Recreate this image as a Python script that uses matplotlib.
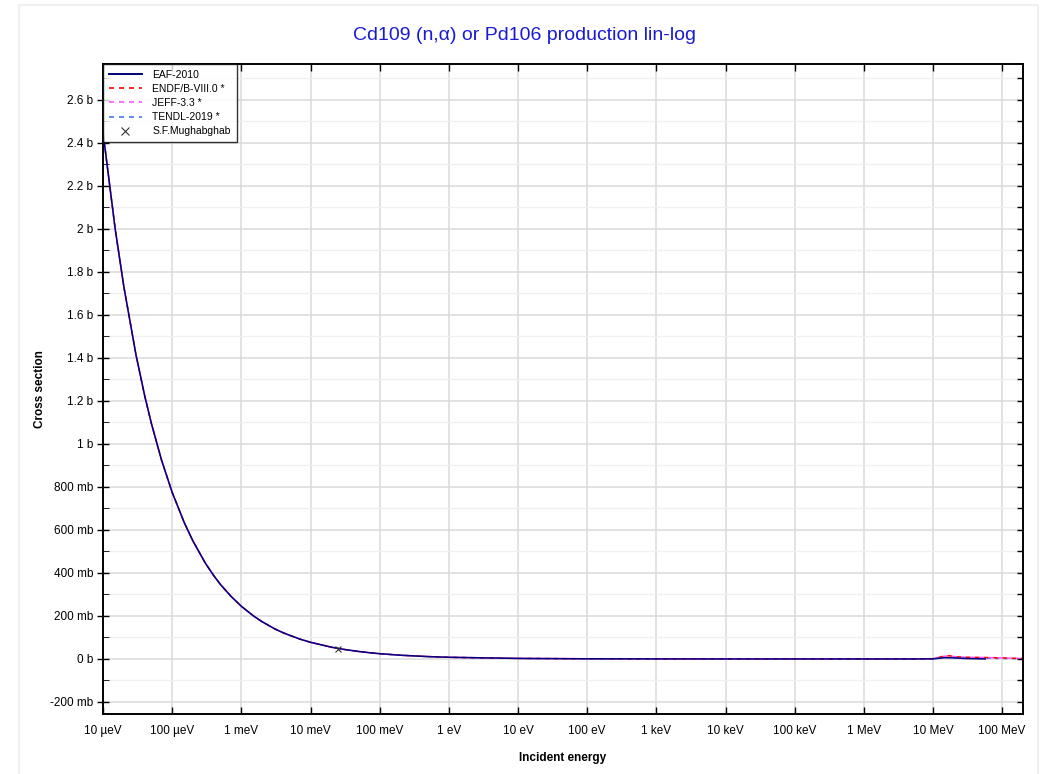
import numpy as np
import matplotlib.pyplot as plt
from matplotlib.ticker import FixedLocator, MultipleLocator, FuncFormatter, NullFormatter
from matplotlib.lines import Line2D
import matplotlib.patches as patches

plt.rcParams['font.family'] = ['Liberation Sans', 'DejaVu Sans']

# energies in eV, cross sections in barn
e_low = [1e-5, 1.5e-5, 2e-5, 3e-5, 4e-5, 5e-5, 7e-5,
         1e-4, 1.5e-4, 2e-4, 3e-4, 4e-4, 5e-4, 7e-4,
         1e-3, 1.5e-3, 2e-3, 3e-3, 4e-3, 5e-3, 7e-3,
         1e-2, 2e-2, 3e-2, 5e-2, 7e-2,
         0.1, 0.2, 0.5, 1, 10, 100, 1e3, 1e4, 1e5, 1e6, 5e6]
xs_low = [2.45, 2.0, 1.732, 1.414, 1.225, 1.096, 0.926,
          0.775, 0.633, 0.548, 0.447, 0.387, 0.346, 0.293,
          0.245, 0.200, 0.173, 0.141, 0.122, 0.110, 0.0926,
          0.0775, 0.0548, 0.0447, 0.0346, 0.0293,
          0.0245, 0.0173, 0.0110, 0.00775, 0.00245, 0.00078, 0.00025, 0.00008,
          0.00003, 0.00001, 0.00001]

eaf_e_hi = [1e7, 1.5e7, 2e7, 3e7, 5.7e7]
eaf_xs_hi = [0.0005, 0.006, 0.005, 0.002, 0.0]

endf_e_hi = [1e7, 1.4e7, 1.7e7, 2.2e7, 3e7, 5e7, 1e8, 2e8]
endf_xs_hi = [0.001, 0.012, 0.015, 0.010, 0.008, 0.007, 0.005, 0.002]

jeff_e_hi = [1e7, 1.4e7, 1.7e7, 2.2e7, 3e7, 5e7, 1e8, 2e8]
jeff_xs_hi = [0.001, 0.012, 0.014, 0.010, 0.008, 0.007, 0.005, 0.002]

tendl_e_hi = [1e7, 1.5e7, 2e7, 3e7, 6e7, 1e8, 2e8]
tendl_xs_hi = [0.0005, 0.007, 0.006, 0.004, 0.003, 0.002, 0.001]

mugh_e = [0.0253]
mugh_xs = [0.045]

x_ticks = [1e-5, 1e-4, 1e-3, 1e-2, 1e-1, 1, 10, 100, 1e3, 1e4, 1e5, 1e6, 1e7, 1e8]
x_labels = ['10 µeV', '100 µeV', '1 meV', '10 meV', '100 meV', '1 eV', '10 eV',
            '100 eV', '1 keV', '10 keV', '100 keV', '1 MeV', '10 MeV', '100 MeV']

ylim = (-0.256, 2.767)

fig = plt.figure(figsize=(10.49, 7.74), dpi=100)
ax = fig.add_axes([103/1049, 1-714/774, 920/1049, 650/774])

# light frame around the figure
fig.patches.append(patches.Rectangle((19/1049, -0.01), 1019/1049, 1-5/774+0.01,
                                     transform=fig.transFigure, fill=False,
                                     edgecolor='#eeeeee', lw=1.2))

ax.plot(e_low + tendl_e_hi, xs_low + tendl_xs_hi, color='#4477ee', lw=1.0,
        ls=(0, (3, 3)), zorder=3)
ax.plot(e_low + endf_e_hi, xs_low + endf_xs_hi, color='#ff0000', lw=1.1,
        ls=(0, (3, 3)), zorder=4)
ax.plot(e_low + jeff_e_hi, xs_low + jeff_xs_hi, color='#ff55ff', lw=1.1,
        ls=(3, (3, 3)), zorder=4)
ax.plot(e_low + eaf_e_hi, xs_low + eaf_xs_hi, color='#000080', lw=1.1, zorder=5)
ax.plot(mugh_e, mugh_xs, 'x', color='#333333', ms=5, mew=0.8, zorder=7)

ax.set_xscale('log')
ax.set_xlim(1e-5, 2e8)
ax.set_ylim(*ylim)

ax.xaxis.set_major_locator(FixedLocator(x_ticks))
ax.set_xticklabels(x_labels)
ax.xaxis.set_minor_locator(FixedLocator([]))
ax.yaxis.set_major_locator(MultipleLocator(0.2))
ax.yaxis.set_minor_locator(MultipleLocator(0.1))


def fmt_b(v, pos):
    v = round(v, 6)
    if v == 0:
        return '0 b'
    if abs(v) >= 1:
        return f'{v:g} b'
    return f'{v*1000:g} mb'


ax.yaxis.set_major_formatter(FuncFormatter(fmt_b))

ax.grid(True, which='major', color='#dadada', lw=1.1)
ax.grid(True, which='minor', axis='y', color='#f0f0f0', lw=1.0)
ax.set_axisbelow(True)

ax.tick_params(axis='x', which='major', direction='in', length=5, top=True,
               labelsize=8.5, pad=8, width=1)
ax.tick_params(axis='y', which='major', direction='inout', length=8, right=False,
               labelsize=8.5, width=1, pad=3)
ax.tick_params(axis='y', which='minor', direction='in', length=4, right=False)

# inward ticks on the right side
ax2 = ax.twinx()
ax2.set_ylim(*ylim)
ax2.yaxis.set_major_locator(MultipleLocator(0.2))
ax2.yaxis.set_minor_locator(MultipleLocator(0.1))
ax2.yaxis.set_major_formatter(NullFormatter())
ax2.tick_params(axis='y', which='both', direction='in', length=4, width=1)

for a in (ax, ax2):
    for s in a.spines.values():
        s.set_linewidth(1.2)

ax.set_xlabel('Incident energy', fontsize=8.5, fontweight='bold', labelpad=11)
ax.set_ylabel('Cross section', fontsize=8.5, fontweight='bold', labelpad=3)
fig.text(0.5, 1-35/774, 'Cd109 (n,α) or Pd106 production lin-log',
         ha='center', va='center', fontsize=14, color='#1a1ad4')

handles = [
    Line2D([], [], color='#000080', lw=1.4),
    Line2D([], [], color='#ff0000', lw=1.2, ls=(0, (3, 3))),
    Line2D([], [], color='#ff55ff', lw=1.2, ls=(0, (3, 3))),
    Line2D([], [], color='#4477ee', lw=1.2, ls=(0, (3, 3))),
    Line2D([], [], color='#333333', ls='', marker='x', ms=6, mew=0.8),
]
labels = ['EAF-2010', 'ENDF/B-VIII.0 *', 'JEFF-3.3 *', 'TENDL-2019 *', 'S.F.Mughabghab']
leg = ax2.legend(handles, labels, loc='upper left', fontsize=7.5, frameon=True,
                 fancybox=False, edgecolor='black', borderaxespad=0,
                 handlelength=3.2, handletextpad=1.0, labelspacing=0.4,
                 borderpad=0.55)
leg.get_frame().set_linewidth(1.0)

fig.savefig('out.png', dpi=100)
